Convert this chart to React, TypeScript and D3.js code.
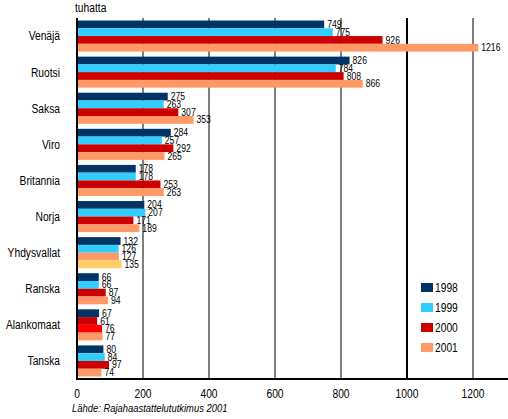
import React from "react";
import * as d3 from "d3";

const categories = ["Venäjä", "Ruotsi", "Saksa", "Viro", "Britannia", "Norja", "Yhdysvallat", "Ranska", "Alankomaat", "Tanska"];
const seriesNames = ["1998", "1999", "2000", "2001"];
const values1998 = [749, 826, 275, 284, 178, 204, 132, 66, 67, 80];
const values1999 = [775, 784, 263, 257, 178, 207, 126, 66, 61, 84];
const values2000 = [926, 808, 307, 292, 253, 171, 127, 87, 76, 97];
const values2001 = [1216, 866, 353, 265, 263, 189, 135, 94, 77, 74];
const xTicks = [0, 200, 400, 600, 800, 1000, 1200];
const unitLabel = "tuhatta";
const sourceText = "Lähde: Rajahaastattelututkimus 2001";

const seriesColors = ["#003366", "#33CCFF", "#CC0000", "#FF9966"];
// colour quirks present in the original picture: [category, series index, colour]
const colorOverrides: [string, number, string][] = [
  ["Yhdysvallat", 2, "#FF9966"],
  ["Yhdysvallat", 3, "#FFCC66"],
  ["Alankomaat", 1, "#CC0000"],
  ["Alankomaat", 2, "#FF0000"],
];

const FONT = "'Liberation Sans', Arial, sans-serif";
const NARROW = 0.82;

function NText(props: {
  x: number; y: number; size: number; anchor?: string; baseline?: string; italic?: boolean; children: React.ReactNode;
}) {
  return (
    <g transform={`translate(${props.x},${props.y}) scale(${NARROW},1)`}>
      <text
        x={0}
        y={0}
        textAnchor={props.anchor || "start"}
        dominantBaseline={props.baseline || "auto"}
        fontFamily={FONT}
        fontSize={props.size}
        fontStyle={props.italic ? "italic" : "normal"}
        fill="#000"
      >
        {props.children}
      </text>
    </g>
  );
}

export default function App() {
  const W = 508, H = 419;
  const left = 77, right = 506, top = 18, bottom = 379;
  const allValues = [values1998, values1999, values2000, values2001];

  const x = d3.scaleLinear().domain([0, 1300]).range([left, right]);
  const y = d3.scaleBand<string>().domain(categories).range([top, bottom]).paddingInner(0.14).paddingOuter(0.07);
  const ys = d3.scaleBand<string>().domain(seriesNames).range([0, y.bandwidth()]);

  const colorFor = (cat: string, si: number) => {
    const o = colorOverrides.find((c) => c[0] === cat && c[1] === si);
    return o ? o[2] : seriesColors[si];
  };

  return (
    <svg width={W} height={H} style={{ position: "absolute", left: 0, top: 0, background: "#fff" }}>
      <NText x={75} y={12} size={12.5}>{unitLabel}</NText>
      {xTicks.filter((t) => t > 0).map((t) => (
        <line key={t} x1={x(t)} x2={x(t)} y1={top} y2={bottom} stroke="#000" strokeWidth={t === 1000 ? 2 : 1} />
      ))}
      {categories.map((cat, ci) => (
        <g key={cat}>
          <NText x={60} y={(y(cat) as number) + y.bandwidth() / 2} anchor="end" baseline="central" size={12.5}>{cat}</NText>
          {seriesNames.map((s, si) => {
            const v = allValues[si][ci];
            const by = (y(cat) as number) + (ys(s) as number);
            return (
              <g key={s}>
                <rect x={x(0)} y={by} width={x(v) - x(0)} height={ys.bandwidth()} fill={colorFor(cat, si)} />
                <NText x={x(v) + 3} y={by + ys.bandwidth() - 0.3} size={10.5}>{v}</NText>
              </g>
            );
          })}
        </g>
      ))}
      <line x1={left} x2={left} y1={top} y2={bottom + 1} stroke="#000" strokeWidth={2} />
      <line x1={left - 1} x2={W} y1={bottom} y2={bottom} stroke="#000" strokeWidth={2} />
      {xTicks.map((t) => (
        <NText key={t} x={x(t)} y={398} anchor="middle" size={12.5}>{t}</NText>
      ))}
      {seriesNames.map((s, si) => (
        <g key={s}>
          <rect x={421} y={283 + si * 20} width={12} height={9} fill={seriesColors[si]} />
          <NText x={435} y={287.5 + si * 20} baseline="central" size={12.5}>{s}</NText>
        </g>
      ))}
      <NText x={72} y={412} size={11.5} italic>{sourceText}</NText>
    </svg>
  );
}
